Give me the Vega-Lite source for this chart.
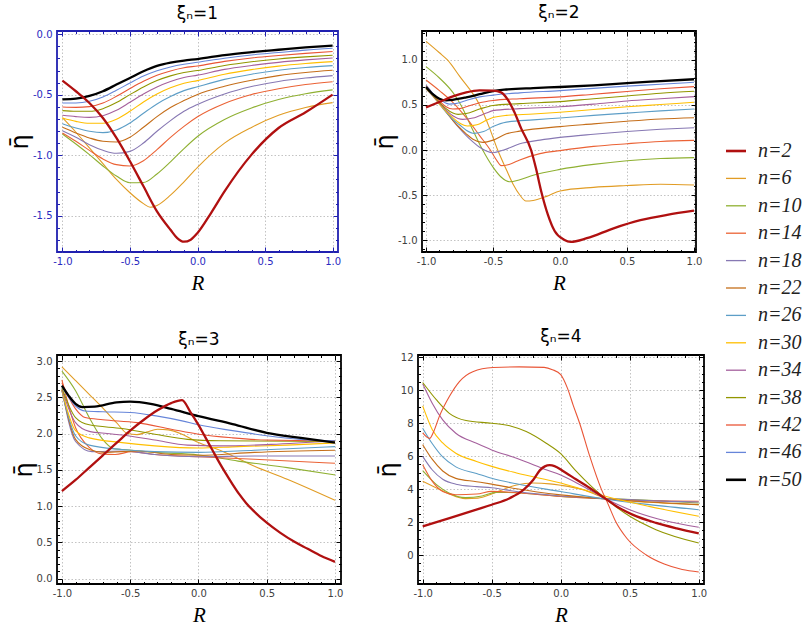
{
  "$schema": "https://vega.github.io/schema/vega-lite/v6.json",
  "padding": {"left": 7, "top": 3, "right": 0, "bottom": 0},
  "spacing": 32,
  "datasets": {
    "p1": [
      {"n":6,"R":-1,"v":-0.69},{"n":6,"R":-0.9,"v":-0.81},{"n":6,"R":-0.8,"v":-0.94},{"n":6,"R":-0.7,"v":-1.07},{"n":6,"R":-0.6,"v":-1.2},{"n":6,"R":-0.5,"v":-1.31},{"n":6,"R":-0.4,"v":-1.4},{"n":6,"R":-0.35,"v":-1.43},{"n":6,"R":-0.3,"v":-1.415},{"n":6,"R":-0.2,"v":-1.33},{"n":6,"R":-0.1,"v":-1.22},{"n":6,"R":0,"v":-1.1},{"n":6,"R":0.2,"v":-0.9},{"n":6,"R":0.4,"v":-0.77},{"n":6,"R":0.6,"v":-0.67},{"n":6,"R":0.8,"v":-0.605},{"n":6,"R":1,"v":-0.565},
      {"n":10,"R":-1,"v":-0.824},{"n":10,"R":-0.9,"v":-0.907},{"n":10,"R":-0.8,"v":-0.995},{"n":10,"R":-0.7,"v":-1.089},{"n":10,"R":-0.6,"v":-1.172},{"n":10,"R":-0.5,"v":-1.228},{"n":10,"R":-0.4,"v":-1.226},{"n":10,"R":-0.3,"v":-1.155},{"n":10,"R":-0.2,"v":-1.055},{"n":10,"R":-0.1,"v":-0.945},{"n":10,"R":0,"v":-0.845},{"n":10,"R":0.2,"v":-0.705},{"n":10,"R":0.4,"v":-0.61},{"n":10,"R":0.6,"v":-0.54},{"n":10,"R":0.8,"v":-0.492},{"n":10,"R":1,"v":-0.46},
      {"n":14,"R":-1,"v":-0.816},{"n":14,"R":-0.9,"v":-0.885},{"n":14,"R":-0.8,"v":-0.96},{"n":14,"R":-0.7,"v":-1.031},{"n":14,"R":-0.6,"v":-1.078},{"n":14,"R":-0.5,"v":-1.089},{"n":14,"R":-0.4,"v":-1.045},{"n":14,"R":-0.3,"v":-0.954},{"n":14,"R":-0.2,"v":-0.852},{"n":14,"R":-0.1,"v":-0.761},{"n":14,"R":0,"v":-0.682},{"n":14,"R":0.2,"v":-0.572},{"n":14,"R":0.4,"v":-0.498},{"n":14,"R":0.6,"v":-0.45},{"n":14,"R":0.8,"v":-0.415},{"n":14,"R":1,"v":-0.392},
      {"n":18,"R":-1,"v":-0.797},{"n":18,"R":-0.9,"v":-0.852},{"n":18,"R":-0.8,"v":-0.913},{"n":18,"R":-0.7,"v":-0.959},{"n":18,"R":-0.6,"v":-0.984},{"n":18,"R":-0.5,"v":-0.968},{"n":18,"R":-0.4,"v":-0.899},{"n":18,"R":-0.3,"v":-0.802},{"n":18,"R":-0.2,"v":-0.714},{"n":18,"R":-0.1,"v":-0.637},{"n":18,"R":0,"v":-0.58},{"n":18,"R":0.2,"v":-0.493},{"n":18,"R":0.4,"v":-0.432},{"n":18,"R":0.6,"v":-0.39},{"n":18,"R":0.8,"v":-0.362},{"n":18,"R":1,"v":-0.342},
      {"n":22,"R":-1,"v":-0.769},{"n":22,"R":-0.9,"v":-0.816},{"n":22,"R":-0.8,"v":-0.857},{"n":22,"R":-0.7,"v":-0.885},{"n":22,"R":-0.6,"v":-0.891},{"n":22,"R":-0.5,"v":-0.852},{"n":22,"R":-0.4,"v":-0.769},{"n":22,"R":-0.3,"v":-0.681},{"n":22,"R":-0.2,"v":-0.606},{"n":22,"R":-0.1,"v":-0.548},{"n":22,"R":0,"v":-0.497},{"n":22,"R":0.2,"v":-0.43},{"n":22,"R":0.4,"v":-0.38},{"n":22,"R":0.6,"v":-0.342},{"n":22,"R":0.8,"v":-0.316},{"n":22,"R":1,"v":-0.298},
      {"n":26,"R":-1,"v":-0.739},{"n":26,"R":-0.9,"v":-0.775},{"n":26,"R":-0.8,"v":-0.802},{"n":26,"R":-0.7,"v":-0.813},{"n":26,"R":-0.6,"v":-0.791},{"n":26,"R":-0.5,"v":-0.733},{"n":26,"R":-0.4,"v":-0.653},{"n":26,"R":-0.3,"v":-0.576},{"n":26,"R":-0.2,"v":-0.515},{"n":26,"R":-0.1,"v":-0.466},{"n":26,"R":0,"v":-0.434},{"n":26,"R":0.2,"v":-0.373},{"n":26,"R":0.4,"v":-0.33},{"n":26,"R":0.6,"v":-0.298},{"n":26,"R":0.8,"v":-0.275},{"n":26,"R":1,"v":-0.259},
      {"n":30,"R":-1,"v":-0.692},{"n":30,"R":-0.9,"v":-0.72},{"n":30,"R":-0.8,"v":-0.736},{"n":30,"R":-0.7,"v":-0.736},{"n":30,"R":-0.6,"v":-0.703},{"n":30,"R":-0.5,"v":-0.637},{"n":30,"R":-0.4,"v":-0.56},{"n":30,"R":-0.3,"v":-0.494},{"n":30,"R":-0.2,"v":-0.443},{"n":30,"R":-0.1,"v":-0.405},{"n":30,"R":0,"v":-0.383},{"n":30,"R":0.2,"v":-0.33},{"n":30,"R":0.4,"v":-0.292},{"n":30,"R":0.6,"v":-0.263},{"n":30,"R":0.8,"v":-0.242},{"n":30,"R":1,"v":-0.226},
      {"n":34,"R":-1,"v":-0.67},{"n":34,"R":-0.9,"v":-0.681},{"n":34,"R":-0.8,"v":-0.687},{"n":34,"R":-0.7,"v":-0.673},{"n":34,"R":-0.6,"v":-0.629},{"n":34,"R":-0.5,"v":-0.562},{"n":34,"R":-0.4,"v":-0.494},{"n":34,"R":-0.3,"v":-0.436},{"n":34,"R":-0.2,"v":-0.391},{"n":34,"R":-0.1,"v":-0.358},{"n":34,"R":0,"v":-0.338},{"n":34,"R":0.2,"v":-0.29},{"n":34,"R":0.4,"v":-0.258},{"n":34,"R":0.6,"v":-0.232},{"n":34,"R":0.8,"v":-0.212},{"n":34,"R":1,"v":-0.196},
      {"n":38,"R":-1,"v":-0.631},{"n":38,"R":-0.9,"v":-0.637},{"n":38,"R":-0.8,"v":-0.637},{"n":38,"R":-0.7,"v":-0.615},{"n":38,"R":-0.6,"v":-0.565},{"n":38,"R":-0.5,"v":-0.499},{"n":38,"R":-0.4,"v":-0.436},{"n":38,"R":-0.3,"v":-0.383},{"n":38,"R":-0.2,"v":-0.344},{"n":38,"R":-0.1,"v":-0.316},{"n":38,"R":0,"v":-0.3},{"n":38,"R":0.2,"v":-0.258},{"n":38,"R":0.4,"v":-0.227},{"n":38,"R":0.6,"v":-0.204},{"n":38,"R":0.8,"v":-0.187},{"n":38,"R":1,"v":-0.174},
      {"n":42,"R":-1,"v":-0.601},{"n":42,"R":-0.9,"v":-0.604},{"n":42,"R":-0.8,"v":-0.598},{"n":42,"R":-0.7,"v":-0.568},{"n":42,"R":-0.6,"v":-0.513},{"n":42,"R":-0.5,"v":-0.449},{"n":42,"R":-0.4,"v":-0.389},{"n":42,"R":-0.3,"v":-0.339},{"n":42,"R":-0.2,"v":-0.303},{"n":42,"R":-0.1,"v":-0.277},{"n":42,"R":0,"v":-0.262},{"n":42,"R":0.2,"v":-0.224},{"n":42,"R":0.4,"v":-0.196},{"n":42,"R":0.6,"v":-0.176},{"n":42,"R":0.8,"v":-0.158},{"n":42,"R":1,"v":-0.143},
      {"n":46,"R":-1,"v":-0.568},{"n":46,"R":-0.9,"v":-0.568},{"n":46,"R":-0.8,"v":-0.554},{"n":46,"R":-0.7,"v":-0.518},{"n":46,"R":-0.6,"v":-0.463},{"n":46,"R":-0.5,"v":-0.403},{"n":46,"R":-0.4,"v":-0.345},{"n":46,"R":-0.3,"v":-0.301},{"n":46,"R":-0.2,"v":-0.27},{"n":46,"R":-0.1,"v":-0.248},{"n":46,"R":0,"v":-0.232},{"n":46,"R":0.2,"v":-0.198},{"n":46,"R":0.4,"v":-0.171},{"n":46,"R":0.6,"v":-0.151},{"n":46,"R":0.8,"v":-0.131},{"n":46,"R":1,"v":-0.116},
      {"n":50,"R":-1,"v":-0.538},{"n":50,"R":-0.9,"v":-0.532},{"n":50,"R":-0.8,"v":-0.51},{"n":50,"R":-0.7,"v":-0.471},{"n":50,"R":-0.6,"v":-0.416},{"n":50,"R":-0.5,"v":-0.361},{"n":50,"R":-0.4,"v":-0.306},{"n":50,"R":-0.3,"v":-0.262},{"n":50,"R":-0.2,"v":-0.235},{"n":50,"R":-0.1,"v":-0.217},{"n":50,"R":0,"v":-0.205},{"n":50,"R":0.2,"v":-0.172},{"n":50,"R":0.4,"v":-0.148},{"n":50,"R":0.6,"v":-0.128},{"n":50,"R":0.8,"v":-0.109},{"n":50,"R":1,"v":-0.094},
      {"n":2,"R":-1,"v":-0.383},{"n":2,"R":-0.9,"v":-0.471},{"n":2,"R":-0.8,"v":-0.568},{"n":2,"R":-0.7,"v":-0.692},{"n":2,"R":-0.6,"v":-0.857},{"n":2,"R":-0.5,"v":-1.05},{"n":2,"R":-0.4,"v":-1.257},{"n":2,"R":-0.3,"v":-1.464},{"n":2,"R":-0.2,"v":-1.616},{"n":2,"R":-0.15,"v":-1.685},{"n":2,"R":-0.1,"v":-1.715},{"n":2,"R":-0.05,"v":-1.698},{"n":2,"R":0,"v":-1.643},{"n":2,"R":0.1,"v":-1.478},{"n":2,"R":0.2,"v":-1.299},{"n":2,"R":0.4,"v":-0.995},{"n":2,"R":0.6,"v":-0.775},{"n":2,"R":0.8,"v":-0.645},{"n":2,"R":1,"v":-0.499}
    ],
    "p2": [
      {"n":6,"R":-1,"v":1.207},{"n":6,"R":-0.9,"v":1.08},{"n":6,"R":-0.84,"v":1.0},{"n":6,"R":-0.75,"v":0.82},{"n":6,"R":-0.6,"v":0.5},{"n":6,"R":-0.53,"v":0.26},{"n":6,"R":-0.465,"v":0.0},{"n":6,"R":-0.4,"v":-0.22},{"n":6,"R":-0.35,"v":-0.38},{"n":6,"R":-0.3,"v":-0.5},{"n":6,"R":-0.254,"v":-0.567},{"n":6,"R":-0.2,"v":-0.56},{"n":6,"R":-0.1,"v":-0.515},{"n":6,"R":0,"v":-0.455},{"n":6,"R":0.25,"v":-0.415},{"n":6,"R":0.5,"v":-0.395},{"n":6,"R":0.75,"v":-0.38},{"n":6,"R":1,"v":-0.389},
      {"n":10,"R":-1,"v":0.926},{"n":10,"R":-0.9,"v":0.8},{"n":10,"R":-0.8,"v":0.64},{"n":10,"R":-0.74,"v":0.5},{"n":10,"R":-0.65,"v":0.22},{"n":10,"R":-0.577,"v":0.0},{"n":10,"R":-0.5,"v":-0.19},{"n":10,"R":-0.44,"v":-0.3},{"n":10,"R":-0.378,"v":-0.352},{"n":10,"R":-0.3,"v":-0.33},{"n":10,"R":-0.2,"v":-0.28},{"n":10,"R":0,"v":-0.215},{"n":10,"R":0.25,"v":-0.16},{"n":10,"R":0.5,"v":-0.12},{"n":10,"R":0.75,"v":-0.095},{"n":10,"R":1,"v":-0.085},
      {"n":14,"R":-1,"v":0.778},{"n":14,"R":-0.9,"v":0.66},{"n":14,"R":-0.8,"v":0.53},{"n":14,"R":-0.7,"v":0.36},{"n":14,"R":-0.6,"v":0.16},{"n":14,"R":-0.52,"v":0.0},{"n":14,"R":-0.47,"v":-0.12},{"n":14,"R":-0.44,"v":-0.174},{"n":14,"R":-0.38,"v":-0.16},{"n":14,"R":-0.3,"v":-0.11},{"n":14,"R":-0.15,"v":-0.04},{"n":14,"R":0,"v":-0.007},{"n":14,"R":0.25,"v":0.04},{"n":14,"R":0.5,"v":0.07},{"n":14,"R":0.75,"v":0.095},{"n":14,"R":1,"v":0.107},
      {"n":18,"R":-1,"v":0.72},{"n":18,"R":-0.95,"v":0.63},{"n":18,"R":-0.9,"v":0.53},{"n":18,"R":-0.85,"v":0.43},{"n":18,"R":-0.8,"v":0.33},{"n":18,"R":-0.75,"v":0.24},{"n":18,"R":-0.7,"v":0.16},{"n":18,"R":-0.65,"v":0.09},{"n":18,"R":-0.6,"v":0.03},{"n":18,"R":-0.55,"v":-0.01},{"n":18,"R":-0.5,"v":-0.03},{"n":18,"R":-0.42,"v":0.0},{"n":18,"R":-0.3,"v":0.07},{"n":18,"R":-0.15,"v":0.11},{"n":18,"R":0,"v":0.14},{"n":18,"R":0.25,"v":0.175},{"n":18,"R":0.5,"v":0.205},{"n":18,"R":0.75,"v":0.23},{"n":18,"R":1,"v":0.248},
      {"n":22,"R":-1,"v":0.71},{"n":22,"R":-0.95,"v":0.62},{"n":22,"R":-0.9,"v":0.52},{"n":22,"R":-0.85,"v":0.42},{"n":22,"R":-0.8,"v":0.33},{"n":22,"R":-0.75,"v":0.25},{"n":22,"R":-0.7,"v":0.18},{"n":22,"R":-0.65,"v":0.12},{"n":22,"R":-0.577,"v":0.085},{"n":22,"R":-0.5,"v":0.11},{"n":22,"R":-0.4,"v":0.18},{"n":22,"R":-0.3,"v":0.21},{"n":22,"R":0,"v":0.26},{"n":22,"R":0.25,"v":0.29},{"n":22,"R":0.5,"v":0.32},{"n":22,"R":0.75,"v":0.345},{"n":22,"R":1,"v":0.359},
      {"n":26,"R":-1,"v":0.7},{"n":26,"R":-0.95,"v":0.61},{"n":26,"R":-0.9,"v":0.51},{"n":26,"R":-0.85,"v":0.42},{"n":26,"R":-0.8,"v":0.34},{"n":26,"R":-0.75,"v":0.28},{"n":26,"R":-0.7,"v":0.22},{"n":26,"R":-0.64,"v":0.185},{"n":26,"R":-0.57,"v":0.205},{"n":26,"R":-0.5,"v":0.26},{"n":26,"R":-0.4,"v":0.31},{"n":26,"R":-0.2,"v":0.335},{"n":26,"R":0,"v":0.356},{"n":26,"R":0.25,"v":0.385},{"n":26,"R":0.5,"v":0.41},{"n":26,"R":0.75,"v":0.435},{"n":26,"R":1,"v":0.456},
      {"n":30,"R":-1,"v":0.69},{"n":30,"R":-0.95,"v":0.6},{"n":30,"R":-0.9,"v":0.51},{"n":30,"R":-0.85,"v":0.43},{"n":30,"R":-0.8,"v":0.36},{"n":30,"R":-0.75,"v":0.3},{"n":30,"R":-0.69,"v":0.267},{"n":30,"R":-0.62,"v":0.28},{"n":30,"R":-0.55,"v":0.33},{"n":30,"R":-0.5,"v":0.36},{"n":30,"R":-0.4,"v":0.385},{"n":30,"R":-0.2,"v":0.4},{"n":30,"R":0,"v":0.42},{"n":30,"R":0.25,"v":0.45},{"n":30,"R":0.5,"v":0.48},{"n":30,"R":0.75,"v":0.505},{"n":30,"R":1,"v":0.53},
      {"n":34,"R":-1,"v":0.68},{"n":34,"R":-0.95,"v":0.6},{"n":34,"R":-0.9,"v":0.52},{"n":34,"R":-0.85,"v":0.445},{"n":34,"R":-0.8,"v":0.38},{"n":34,"R":-0.726,"v":0.34},{"n":34,"R":-0.65,"v":0.355},{"n":34,"R":-0.55,"v":0.41},{"n":34,"R":-0.5,"v":0.437},{"n":34,"R":-0.3,"v":0.46},{"n":34,"R":0,"v":0.48},{"n":34,"R":0.25,"v":0.51},{"n":34,"R":0.5,"v":0.545},{"n":34,"R":0.75,"v":0.57},{"n":34,"R":1,"v":0.593},
      {"n":38,"R":-1,"v":0.68},{"n":38,"R":-0.95,"v":0.61},{"n":38,"R":-0.9,"v":0.53},{"n":38,"R":-0.85,"v":0.46},{"n":38,"R":-0.8,"v":0.41},{"n":38,"R":-0.76,"v":0.396},{"n":38,"R":-0.7,"v":0.405},{"n":38,"R":-0.6,"v":0.455},{"n":38,"R":-0.5,"v":0.495},{"n":38,"R":-0.3,"v":0.515},{"n":38,"R":0,"v":0.537},{"n":38,"R":0.25,"v":0.57},{"n":38,"R":0.5,"v":0.6},{"n":38,"R":0.75,"v":0.63},{"n":38,"R":1,"v":0.652},
      {"n":42,"R":-1,"v":0.69},{"n":42,"R":-0.95,"v":0.62},{"n":42,"R":-0.9,"v":0.545},{"n":42,"R":-0.85,"v":0.48},{"n":42,"R":-0.8,"v":0.455},{"n":42,"R":-0.75,"v":0.46},{"n":42,"R":-0.7,"v":0.48},{"n":42,"R":-0.6,"v":0.525},{"n":42,"R":-0.5,"v":0.55},{"n":42,"R":-0.3,"v":0.57},{"n":42,"R":0,"v":0.59},{"n":42,"R":0.25,"v":0.62},{"n":42,"R":0.5,"v":0.65},{"n":42,"R":0.75,"v":0.68},{"n":42,"R":1,"v":0.704},
      {"n":46,"R":-1,"v":0.7},{"n":46,"R":-0.95,"v":0.63},{"n":46,"R":-0.9,"v":0.565},{"n":46,"R":-0.85,"v":0.52},{"n":46,"R":-0.826,"v":0.51},{"n":46,"R":-0.78,"v":0.515},{"n":46,"R":-0.7,"v":0.55},{"n":46,"R":-0.6,"v":0.59},{"n":46,"R":-0.5,"v":0.61},{"n":46,"R":-0.3,"v":0.635},{"n":46,"R":0,"v":0.66},{"n":46,"R":0.25,"v":0.685},{"n":46,"R":0.5,"v":0.71},{"n":46,"R":0.75,"v":0.73},{"n":46,"R":1,"v":0.752},
      {"n":50,"R":-1,"v":0.7},{"n":50,"R":-0.95,"v":0.62},{"n":50,"R":-0.9,"v":0.57},{"n":50,"R":-0.85,"v":0.552},{"n":50,"R":-0.8,"v":0.558},{"n":50,"R":-0.7,"v":0.585},{"n":50,"R":-0.6,"v":0.62},{"n":50,"R":-0.5,"v":0.655},{"n":50,"R":-0.4,"v":0.672},{"n":50,"R":-0.2,"v":0.688},{"n":50,"R":0,"v":0.7},{"n":50,"R":0.25,"v":0.718},{"n":50,"R":0.5,"v":0.743},{"n":50,"R":0.75,"v":0.765},{"n":50,"R":1,"v":0.786},
      {"n":2,"R":-1,"v":0.474},{"n":2,"R":-0.9,"v":0.533},{"n":2,"R":-0.8,"v":0.596},{"n":2,"R":-0.7,"v":0.641},{"n":2,"R":-0.6,"v":0.663},{"n":2,"R":-0.5,"v":0.66},{"n":2,"R":-0.44,"v":0.64},{"n":2,"R":-0.39,"v":0.56},{"n":2,"R":-0.34,"v":0.42},{"n":2,"R":-0.29,"v":0.24},{"n":2,"R":-0.216,"v":0.0},{"n":2,"R":-0.18,"v":-0.2},{"n":2,"R":-0.14,"v":-0.46},{"n":2,"R":-0.09,"v":-0.72},{"n":2,"R":-0.04,"v":-0.9},{"n":2,"R":0.03,"v":-0.996},{"n":2,"R":0.08,"v":-1.02},{"n":2,"R":0.2,"v":-0.98},{"n":2,"R":0.4,"v":-0.87},{"n":2,"R":0.6,"v":-0.78},{"n":2,"R":0.8,"v":-0.72},{"n":2,"R":1,"v":-0.674}
    ],
    "p3": [
      {"n":6,"R":-1,"v":2.92},{"n":6,"R":-0.9,"v":2.73},{"n":6,"R":-0.8,"v":2.54},{"n":6,"R":-0.7,"v":2.35},{"n":6,"R":-0.6,"v":2.15},{"n":6,"R":-0.52,"v":2.0},{"n":6,"R":-0.45,"v":1.985},{"n":6,"R":-0.38,"v":2.02},{"n":6,"R":-0.3,"v":2.06},{"n":6,"R":-0.22,"v":2.05},{"n":6,"R":-0.12,"v":1.99},{"n":6,"R":0,"v":1.875},{"n":6,"R":0.17,"v":1.76},{"n":6,"R":0.41,"v":1.55},{"n":6,"R":0.65,"v":1.37},{"n":6,"R":1,"v":1.08},
      {"n":10,"R":-1,"v":2.86},{"n":10,"R":-0.9,"v":2.59},{"n":10,"R":-0.8,"v":2.22},{"n":10,"R":-0.71,"v":1.94},{"n":10,"R":-0.62,"v":1.79},{"n":10,"R":-0.49,"v":1.77},{"n":10,"R":-0.32,"v":1.74},{"n":10,"R":0,"v":1.705},{"n":10,"R":0.29,"v":1.62},{"n":10,"R":0.65,"v":1.53},{"n":10,"R":1,"v":1.43},
      {"n":14,"R":-1,"v":2.74},{"n":14,"R":-0.9,"v":2.08},{"n":14,"R":-0.8,"v":1.81},{"n":14,"R":-0.71,"v":1.72},{"n":14,"R":-0.61,"v":1.71},{"n":14,"R":-0.49,"v":1.75},{"n":14,"R":-0.32,"v":1.71},{"n":14,"R":0,"v":1.68},{"n":14,"R":0.41,"v":1.645},{"n":14,"R":1,"v":1.59},
      {"n":18,"R":-1,"v":2.61},{"n":18,"R":-0.9,"v":1.89},{"n":18,"R":-0.78,"v":1.75},{"n":18,"R":-0.56,"v":1.76},{"n":18,"R":-0.32,"v":1.71},{"n":18,"R":0,"v":1.68},{"n":18,"R":0.41,"v":1.69},{"n":18,"R":1,"v":1.69},
      {"n":22,"R":-1,"v":2.6},{"n":22,"R":-0.9,"v":1.92},{"n":22,"R":-0.8,"v":1.78},{"n":22,"R":-0.69,"v":1.74},{"n":22,"R":-0.44,"v":1.76},{"n":22,"R":-0.2,"v":1.71},{"n":22,"R":0,"v":1.7},{"n":22,"R":0.41,"v":1.74},{"n":22,"R":1,"v":1.77},
      {"n":26,"R":-1,"v":2.59},{"n":26,"R":-0.9,"v":1.97},{"n":26,"R":-0.8,"v":1.84},{"n":26,"R":-0.56,"v":1.78},{"n":26,"R":-0.32,"v":1.75},{"n":26,"R":0,"v":1.74},{"n":26,"R":0.41,"v":1.77},{"n":26,"R":1,"v":1.82},
      {"n":30,"R":-1,"v":2.6},{"n":30,"R":-0.9,"v":2.04},{"n":30,"R":-0.8,"v":1.94},{"n":30,"R":-0.56,"v":1.875},{"n":30,"R":-0.32,"v":1.83},{"n":30,"R":0,"v":1.8},{"n":30,"R":0.29,"v":1.82},{"n":30,"R":0.65,"v":1.84},{"n":30,"R":1,"v":1.87},
      {"n":34,"R":-1,"v":2.61},{"n":34,"R":-0.9,"v":2.15},{"n":34,"R":-0.8,"v":2.03},{"n":34,"R":-0.67,"v":2.0},{"n":34,"R":-0.56,"v":1.98},{"n":34,"R":-0.32,"v":1.91},{"n":34,"R":-0.08,"v":1.84},{"n":34,"R":0.16,"v":1.83},{"n":34,"R":0.53,"v":1.85},{"n":34,"R":1,"v":1.9},
      {"n":38,"R":-1,"v":2.63},{"n":38,"R":-0.9,"v":2.22},{"n":38,"R":-0.8,"v":2.12},{"n":38,"R":-0.56,"v":2.07},{"n":38,"R":-0.32,"v":1.99},{"n":38,"R":-0.08,"v":1.92},{"n":38,"R":0.16,"v":1.9},{"n":38,"R":1,"v":1.89},
      {"n":42,"R":-1,"v":2.7},{"n":42,"R":-0.9,"v":2.34},{"n":42,"R":-0.83,"v":2.22},{"n":42,"R":-0.7,"v":2.19},{"n":42,"R":-0.45,"v":2.15},{"n":42,"R":-0.2,"v":2.06},{"n":42,"R":0,"v":1.99},{"n":42,"R":0.25,"v":1.94},{"n":42,"R":0.5,"v":1.91},{"n":42,"R":1,"v":1.9},
      {"n":46,"R":-1,"v":2.645},{"n":46,"R":-0.9,"v":2.38},{"n":46,"R":-0.83,"v":2.31},{"n":46,"R":-0.7,"v":2.3},{"n":46,"R":-0.5,"v":2.29},{"n":46,"R":-0.3,"v":2.24},{"n":46,"R":-0.12,"v":2.175},{"n":46,"R":0,"v":2.12},{"n":46,"R":0.25,"v":2.04},{"n":46,"R":0.5,"v":1.97},{"n":46,"R":0.75,"v":1.92},{"n":46,"R":1,"v":1.9},
      {"n":50,"R":-1,"v":2.66},{"n":50,"R":-0.95,"v":2.52},{"n":50,"R":-0.9,"v":2.41},{"n":50,"R":-0.85,"v":2.365},{"n":50,"R":-0.76,"v":2.37},{"n":50,"R":-0.6,"v":2.43},{"n":50,"R":-0.5,"v":2.44},{"n":50,"R":-0.35,"v":2.41},{"n":50,"R":-0.2,"v":2.34},{"n":50,"R":0,"v":2.24},{"n":50,"R":0.25,"v":2.13},{"n":50,"R":0.5,"v":2.01},{"n":50,"R":0.75,"v":1.94},{"n":50,"R":1,"v":1.875},
      {"n":2,"R":-1,"v":1.207},{"n":2,"R":-0.9,"v":1.36},{"n":2,"R":-0.8,"v":1.53},{"n":2,"R":-0.7,"v":1.7},{"n":2,"R":-0.6,"v":1.87},{"n":2,"R":-0.5,"v":2.04},{"n":2,"R":-0.4,"v":2.19},{"n":2,"R":-0.3,"v":2.32},{"n":2,"R":-0.2,"v":2.42},{"n":2,"R":-0.12,"v":2.46},{"n":2,"R":-0.06,"v":2.3},{"n":2,"R":0,"v":2.12},{"n":2,"R":0.05,"v":1.95},{"n":2,"R":0.1,"v":1.78},{"n":2,"R":0.15,"v":1.61},{"n":2,"R":0.2,"v":1.45},{"n":2,"R":0.25,"v":1.3},{"n":2,"R":0.3,"v":1.16},{"n":2,"R":0.35,"v":1.04},{"n":2,"R":0.4,"v":0.94},{"n":2,"R":0.5,"v":0.77},{"n":2,"R":0.6,"v":0.63},{"n":2,"R":0.7,"v":0.51},{"n":2,"R":0.8,"v":0.41},{"n":2,"R":0.9,"v":0.31},{"n":2,"R":1,"v":0.23}
    ],
    "p4": [
      {"n":6,"R":-1,"v":4.47},{"n":6,"R":-0.9,"v":4.07},{"n":6,"R":-0.81,"v":3.72},{"n":6,"R":-0.69,"v":3.42},{"n":6,"R":-0.6,"v":3.45},{"n":6,"R":-0.5,"v":3.7},{"n":6,"R":-0.44,"v":3.9},{"n":6,"R":-0.32,"v":4.25},{"n":6,"R":-0.2,"v":4.37},{"n":6,"R":-0.08,"v":4.32},{"n":6,"R":0,"v":4.23},{"n":6,"R":0.16,"v":3.97},{"n":6,"R":0.33,"v":3.45},{"n":6,"R":0.64,"v":3.2},{"n":6,"R":1,"v":3.05},
      {"n":10,"R":-1,"v":5.12},{"n":10,"R":-0.9,"v":4.27},{"n":10,"R":-0.81,"v":3.76},{"n":10,"R":-0.69,"v":3.48},{"n":10,"R":-0.57,"v":3.58},{"n":10,"R":-0.47,"v":3.8},{"n":10,"R":-0.32,"v":3.78},{"n":10,"R":0,"v":3.55},{"n":10,"R":0.33,"v":3.42},{"n":10,"R":0.64,"v":3.32},{"n":10,"R":1,"v":3.16},
      {"n":14,"R":-1,"v":5.48},{"n":14,"R":-0.93,"v":4.47},{"n":14,"R":-0.855,"v":3.86},{"n":14,"R":-0.76,"v":3.66},{"n":14,"R":-0.61,"v":3.7},{"n":14,"R":-0.5,"v":3.86},{"n":14,"R":-0.32,"v":3.78},{"n":14,"R":0,"v":3.55},{"n":14,"R":0.33,"v":3.4},{"n":14,"R":0.64,"v":3.3},{"n":14,"R":1,"v":3.26},
      {"n":18,"R":-1,"v":5.99},{"n":18,"R":-0.93,"v":5.16},{"n":18,"R":-0.855,"v":4.6},{"n":18,"R":-0.76,"v":4.3},{"n":18,"R":-0.61,"v":4.15},{"n":18,"R":-0.5,"v":4.08},{"n":18,"R":-0.32,"v":3.85},{"n":18,"R":0,"v":3.58},{"n":18,"R":0.33,"v":3.42},{"n":18,"R":0.64,"v":3.3},{"n":18,"R":1,"v":3.22},
      {"n":22,"R":-1,"v":6.7},{"n":22,"R":-0.93,"v":5.8},{"n":22,"R":-0.855,"v":5.1},{"n":22,"R":-0.76,"v":4.65},{"n":22,"R":-0.61,"v":4.45},{"n":22,"R":-0.5,"v":4.3},{"n":22,"R":-0.32,"v":4.02},{"n":22,"R":0,"v":3.65},{"n":22,"R":0.33,"v":3.4},{"n":22,"R":0.64,"v":3.22},{"n":22,"R":1,"v":3.06},
      {"n":26,"R":-1,"v":7.7},{"n":26,"R":-0.93,"v":6.75},{"n":26,"R":-0.855,"v":5.95},{"n":26,"R":-0.76,"v":5.35},{"n":26,"R":-0.61,"v":4.95},{"n":26,"R":-0.5,"v":4.66},{"n":26,"R":-0.32,"v":4.32},{"n":26,"R":0,"v":3.85},{"n":26,"R":0.33,"v":3.38},{"n":26,"R":0.64,"v":3.06},{"n":26,"R":1,"v":2.75},
      {"n":30,"R":-1,"v":9.05},{"n":30,"R":-0.93,"v":7.6},{"n":30,"R":-0.855,"v":6.8},{"n":30,"R":-0.76,"v":6.18},{"n":30,"R":-0.61,"v":5.68},{"n":30,"R":-0.5,"v":5.38},{"n":30,"R":-0.32,"v":4.98},{"n":30,"R":0,"v":4.37},{"n":30,"R":0.33,"v":3.55},{"n":30,"R":0.64,"v":2.95},{"n":30,"R":1,"v":2.35},
      {"n":34,"R":-1,"v":10.4},{"n":34,"R":-0.93,"v":9.2},{"n":34,"R":-0.855,"v":8.2},{"n":34,"R":-0.76,"v":7.39},{"n":34,"R":-0.61,"v":6.78},{"n":34,"R":-0.5,"v":6.38},{"n":34,"R":-0.32,"v":5.87},{"n":34,"R":-0.1,"v":5.16},{"n":34,"R":0,"v":4.85},{"n":34,"R":0.16,"v":4.17},{"n":34,"R":0.33,"v":3.4},{"n":34,"R":0.5,"v":2.75},{"n":34,"R":0.7,"v":2.2},{"n":34,"R":1,"v":1.68},
      {"n":38,"R":-1,"v":10.47},{"n":38,"R":-0.9,"v":9.41},{"n":38,"R":-0.807,"v":8.6},{"n":38,"R":-0.686,"v":8.16},{"n":38,"R":-0.5,"v":8.0},{"n":38,"R":-0.37,"v":7.85},{"n":38,"R":-0.25,"v":7.49},{"n":38,"R":-0.105,"v":6.78},{"n":38,"R":0,"v":6.15},{"n":38,"R":0.11,"v":5.1},{"n":38,"R":0.23,"v":4.1},{"n":38,"R":0.33,"v":3.38},{"n":38,"R":0.5,"v":2.35},{"n":38,"R":0.69,"v":1.54},{"n":38,"R":1,"v":0.73},
      {"n":42,"R":-1,"v":7.41},{"n":42,"R":-0.95,"v":7.08},{"n":42,"R":-0.92,"v":7.5},{"n":42,"R":-0.88,"v":8.4},{"n":42,"R":-0.807,"v":9.62},{"n":42,"R":-0.734,"v":10.53},{"n":42,"R":-0.637,"v":11.13},{"n":42,"R":-0.49,"v":11.38},{"n":42,"R":-0.3,"v":11.42},{"n":42,"R":-0.12,"v":11.39},{"n":42,"R":-0.06,"v":11.25},{"n":42,"R":0,"v":10.95},{"n":42,"R":0.05,"v":10.1},{"n":42,"R":0.09,"v":9.1},{"n":42,"R":0.137,"v":8.0},{"n":42,"R":0.21,"v":6.0},{"n":42,"R":0.294,"v":4.0},{"n":42,"R":0.34,"v":3.15},{"n":42,"R":0.4,"v":2.0},{"n":42,"R":0.48,"v":1.0},{"n":42,"R":0.62,"v":0.0},{"n":42,"R":0.75,"v":-0.55},{"n":42,"R":0.88,"v":-0.88},{"n":42,"R":1,"v":-1.03},
      {"n":2,"R":-1,"v":1.74},{"n":2,"R":-0.8,"v":2.25},{"n":2,"R":-0.6,"v":2.78},{"n":2,"R":-0.5,"v":3.05},{"n":2,"R":-0.37,"v":3.45},{"n":2,"R":-0.27,"v":3.95},{"n":2,"R":-0.2,"v":4.55},{"n":2,"R":-0.15,"v":5.15},{"n":2,"R":-0.115,"v":5.38},{"n":2,"R":-0.08,"v":5.45},{"n":2,"R":-0.045,"v":5.4},{"n":2,"R":0.016,"v":5.1},{"n":2,"R":0.11,"v":4.6},{"n":2,"R":0.21,"v":4.07},{"n":2,"R":0.31,"v":3.5},{"n":2,"R":0.4,"v":2.98},{"n":2,"R":0.52,"v":2.45},{"n":2,"R":0.69,"v":1.95},{"n":2,"R":0.84,"v":1.62},{"n":2,"R":1,"v":1.32}
    ]
  },
  "vconcat": [
    {
      "bounds": "flush",
      "spacing": 84,
      "hconcat": [
        {
          "width": 281, "height": 221,
          "data": {"name": "p1"},
          "title": {"text": "ξₙ=1"},
          "view": {"stroke": "#2020b0", "strokeWidth": 1.8},
          "layer": [
            {
              "mark": {"type": "line", "interpolate": "monotone", "clip": true},
              "encoding": {
                "x": {"field": "R", "type": "quantitative", "title": "R",
                      "scale": {"domain": [-1.04, 1.04], "nice": false, "zero": false},
                      "axis": {"values": [-1,-0.9,-0.8,-0.7,-0.6,-0.5,-0.4,-0.3,-0.2,-0.1,0,0.1,0.2,0.3,0.4,0.5,0.6,0.7,0.8,0.9,1],
                               "labelExpr": "abs(datum.value*2-round(datum.value*2))<0.001 ? replace(format(datum.value,'.1f'),'\u2212','-') : ''",
                               "tickSize": {"condition": {"test": "abs(datum.value*2-round(datum.value*2))<0.001", "value": -5}, "value": -2.5},
                               "gridOpacity": {"condition": {"test": "abs(datum.value*2-round(datum.value*2))<0.001", "value": 1}, "value": 0},
                               "labelColor": "#2a2ac0", "tickColor": "#2020b0"}},
                "y": {"field": "v", "type": "quantitative", "title": "η̄",
                      "scale": {"domain": [-1.8, 0.027], "nice": false, "zero": false},
                      "axis": {"values": [-1.8,-1.7,-1.6,-1.5,-1.4,-1.3,-1.2,-1.1,-1,-0.9,-0.8,-0.7,-0.6,-0.5,-0.4,-0.3,-0.2,-0.1,0],
                               "labelExpr": "abs(datum.value*2-round(datum.value*2))<0.001 ? replace(format(datum.value,'.1f'),'\u2212','-') : ''",
                               "tickSize": {"condition": {"test": "abs(datum.value*2-round(datum.value*2))<0.001", "value": -5}, "value": -2.5},
                               "gridOpacity": {"condition": {"test": "abs(datum.value*2-round(datum.value*2))<0.001", "value": 1}, "value": 0},
                               "labelColor": "#2a2ac0", "tickColor": "#2020b0"}},
                "color": {"field": "n", "type": "nominal",
                          "scale": {"domain": [2,6,10,14,18,22,26,30,34,38,42,46,50],
                                    "range": ["#b01010","#e19c24","#8fb032","#eb6235","#8778b3","#c56e1a","#5d9ec7","#ffbf00","#a5609d","#929600","#e95536","#6685d9","#000000"]},
                          "legend": {"orient": "none", "legendX": 669, "legendY": 110, "title": null,
                                     "symbolType": "stroke", "symbolSize": 400, "padding": 0,
                                     "labelExpr": "'n=' + datum.label",
                                     "labelFont": "Liberation Serif", "labelFontStyle": "italic", "labelFontSize": 20,
                                     "labelColor": "#222222", "labelOffset": 12, "rowPadding": 7.4,
                                     "encode": {"symbols": {"update": {"strokeWidth": {"signal": "datum.value == 2 || datum.value == 50 ? 2.6 : 1.3"}}}}}},
                "strokeWidth": {"condition": {"test": "datum.n == 2 || datum.n == 50", "value": 2.3}, "value": 1.1}
              }
            },
            {
              "mark": {"type": "point", "opacity": 0},
              "encoding": {
                "x": {"field": "R", "type": "quantitative",
                      "scale": {"domain": [-1.04, 1.04], "nice": false, "zero": false},
                      "axis": {"orient": "top", "title": null, "labels": false, "grid": false,
                               "values": [-1,-0.9,-0.8,-0.7,-0.6,-0.5,-0.4,-0.3,-0.2,-0.1,0,0.1,0.2,0.3,0.4,0.5,0.6,0.7,0.8,0.9,1],
                               "tickSize": {"condition": {"test": "abs(datum.value*2-round(datum.value*2))<0.001", "value": -5}, "value": -2.5},
                               "tickColor": "#2020b0"}},
                "y": {"field": "v", "type": "quantitative",
                      "scale": {"domain": [-1.8, 0.027], "nice": false, "zero": false},
                      "axis": {"orient": "right", "title": null, "labels": false, "grid": false,
                               "values": [-1.8,-1.7,-1.6,-1.5,-1.4,-1.3,-1.2,-1.1,-1,-0.9,-0.8,-0.7,-0.6,-0.5,-0.4,-0.3,-0.2,-0.1,0],
                               "tickSize": {"condition": {"test": "abs(datum.value*2-round(datum.value*2))<0.001", "value": -5}, "value": -2.5},
                               "tickColor": "#2020b0"}}
              }
            }
          ],
          "resolve": {"axis": {"x": "independent", "y": "independent"}}
        },
        {
          "width": 274, "height": 221,
          "data": {"name": "p2"},
          "title": {"text": "ξₙ=2"},
          "view": {"stroke": "#000000", "strokeWidth": 1.8},
          "layer": [
            {
              "mark": {"type": "line", "interpolate": "monotone", "clip": true},
              "encoding": {
                "x": {"field": "R", "type": "quantitative", "title": "R",
                      "scale": {"domain": [-1.03, 1.015], "nice": false, "zero": false},
                      "axis": {"values": [-1,-0.9,-0.8,-0.7,-0.6,-0.5,-0.4,-0.3,-0.2,-0.1,0,0.1,0.2,0.3,0.4,0.5,0.6,0.7,0.8,0.9,1],
                               "labelExpr": "abs(datum.value*2-round(datum.value*2))<0.001 ? replace(format(datum.value,'.1f'),'\u2212','-') : ''",
                               "tickSize": {"condition": {"test": "abs(datum.value*2-round(datum.value*2))<0.001", "value": -5}, "value": -2.5},
                               "gridOpacity": {"condition": {"test": "abs(datum.value*2-round(datum.value*2))<0.001", "value": 1}, "value": 0}}},
                "y": {"field": "v", "type": "quantitative", "title": "η̄",
                      "scale": {"domain": [-1.133, 1.322], "nice": false, "zero": false},
                      "axis": {"values": [-1.1,-1,-0.9,-0.8,-0.7,-0.6,-0.5,-0.4,-0.3,-0.2,-0.1,0,0.1,0.2,0.3,0.4,0.5,0.6,0.7,0.8,0.9,1,1.1,1.2,1.3],
                               "labelExpr": "abs(datum.value*2-round(datum.value*2))<0.001 ? replace(format(datum.value,'.1f'),'\u2212','-') : ''",
                               "tickSize": {"condition": {"test": "abs(datum.value*2-round(datum.value*2))<0.001", "value": -5}, "value": -2.5},
                               "gridOpacity": {"condition": {"test": "abs(datum.value*2-round(datum.value*2))<0.001", "value": 1}, "value": 0}}},
                "color": {"field": "n", "type": "nominal"},
                "strokeWidth": {"condition": {"test": "datum.n == 2 || datum.n == 50", "value": 2.3}, "value": 1.1}
              }
            },
            {
              "mark": {"type": "point", "opacity": 0},
              "encoding": {
                "x": {"field": "R", "type": "quantitative",
                      "scale": {"domain": [-1.03, 1.015], "nice": false, "zero": false},
                      "axis": {"orient": "top", "title": null, "labels": false, "grid": false,
                               "values": [-1,-0.9,-0.8,-0.7,-0.6,-0.5,-0.4,-0.3,-0.2,-0.1,0,0.1,0.2,0.3,0.4,0.5,0.6,0.7,0.8,0.9,1],
                               "tickSize": {"condition": {"test": "abs(datum.value*2-round(datum.value*2))<0.001", "value": -5}, "value": -2.5}}},
                "y": {"field": "v", "type": "quantitative",
                      "scale": {"domain": [-1.133, 1.322], "nice": false, "zero": false},
                      "axis": {"orient": "right", "title": null, "labels": false, "grid": false,
                               "values": [-1.1,-1,-0.9,-0.8,-0.7,-0.6,-0.5,-0.4,-0.3,-0.2,-0.1,0,0.1,0.2,0.3,0.4,0.5,0.6,0.7,0.8,0.9,1,1.1,1.2,1.3],
                               "tickSize": {"condition": {"test": "abs(datum.value*2-round(datum.value*2))<0.001", "value": -5}, "value": -2.5}}}
              }
            }
          ],
          "resolve": {"axis": {"x": "independent", "y": "independent"}}
        }
      ]
    },
    {
      "bounds": "flush",
      "spacing": 77,
      "hconcat": [
        {
          "width": 284, "height": 229,
          "data": {"name": "p3"},
          "title": {"text": "ξₙ=3"},
          "view": {"stroke": "#000000", "strokeWidth": 1.8},
          "layer": [
            {
              "mark": {"type": "line", "interpolate": "monotone", "clip": true},
              "encoding": {
                "x": {"field": "R", "type": "quantitative", "title": "R",
                      "scale": {"domain": [-1.036, 1.044], "nice": false, "zero": false},
                      "axis": {"values": [-1,-0.9,-0.8,-0.7,-0.6,-0.5,-0.4,-0.3,-0.2,-0.1,0,0.1,0.2,0.3,0.4,0.5,0.6,0.7,0.8,0.9,1],
                               "labelExpr": "abs(datum.value*2-round(datum.value*2))<0.001 ? replace(format(datum.value,'.1f'),'\u2212','-') : ''",
                               "tickSize": {"condition": {"test": "abs(datum.value*2-round(datum.value*2))<0.001", "value": -5}, "value": -2.5},
                               "gridOpacity": {"condition": {"test": "abs(datum.value*2-round(datum.value*2))<0.001", "value": 1}, "value": 0}}},
                "y": {"field": "v", "type": "quantitative", "title": "η̄",
                      "scale": {"domain": [-0.075, 3.083], "nice": false, "zero": false},
                      "axis": {"values": [0,0.1,0.2,0.3,0.4,0.5,0.6,0.7,0.8,0.9,1,1.1,1.2,1.3,1.4,1.5,1.6,1.7,1.8,1.9,2,2.1,2.2,2.3,2.4,2.5,2.6,2.7,2.8,2.9,3],
                               "labelExpr": "abs(datum.value*2-round(datum.value*2))<0.001 ? replace(format(datum.value,'.1f'),'\u2212','-') : ''",
                               "tickSize": {"condition": {"test": "abs(datum.value*2-round(datum.value*2))<0.001", "value": -5}, "value": -2.5},
                               "gridOpacity": {"condition": {"test": "abs(datum.value*2-round(datum.value*2))<0.001", "value": 1}, "value": 0}}},
                "color": {"field": "n", "type": "nominal"},
                "strokeWidth": {"condition": {"test": "datum.n == 2 || datum.n == 50", "value": 2.3}, "value": 1.1}
              }
            },
            {
              "mark": {"type": "point", "opacity": 0},
              "encoding": {
                "x": {"field": "R", "type": "quantitative",
                      "scale": {"domain": [-1.036, 1.044], "nice": false, "zero": false},
                      "axis": {"orient": "top", "title": null, "labels": false, "grid": false,
                               "values": [-1,-0.9,-0.8,-0.7,-0.6,-0.5,-0.4,-0.3,-0.2,-0.1,0,0.1,0.2,0.3,0.4,0.5,0.6,0.7,0.8,0.9,1],
                               "tickSize": {"condition": {"test": "abs(datum.value*2-round(datum.value*2))<0.001", "value": -5}, "value": -2.5}}},
                "y": {"field": "v", "type": "quantitative",
                      "scale": {"domain": [-0.075, 3.083], "nice": false, "zero": false},
                      "axis": {"orient": "right", "title": null, "labels": false, "grid": false,
                               "values": [0,0.1,0.2,0.3,0.4,0.5,0.6,0.7,0.8,0.9,1,1.1,1.2,1.3,1.4,1.5,1.6,1.7,1.8,1.9,2,2.1,2.2,2.3,2.4,2.5,2.6,2.7,2.8,2.9,3],
                               "tickSize": {"condition": {"test": "abs(datum.value*2-round(datum.value*2))<0.001", "value": -5}, "value": -2.5}}}
              }
            }
          ],
          "resolve": {"axis": {"x": "independent", "y": "independent"}}
        },
        {
          "width": 286, "height": 229,
          "data": {"name": "p4"},
          "title": {"text": "ξₙ=4"},
          "view": {"stroke": "#000000", "strokeWidth": 1.8},
          "layer": [
            {
              "mark": {"type": "line", "interpolate": "monotone", "clip": true},
              "encoding": {
                "x": {"field": "R", "type": "quantitative", "title": "R",
                      "scale": {"domain": [-1.034, 1.038], "nice": false, "zero": false},
                      "axis": {"values": [-1,-0.9,-0.8,-0.7,-0.6,-0.5,-0.4,-0.3,-0.2,-0.1,0,0.1,0.2,0.3,0.4,0.5,0.6,0.7,0.8,0.9,1],
                               "labelExpr": "abs(datum.value*2-round(datum.value*2))<0.001 ? replace(format(datum.value,'.1f'),'\u2212','-') : ''",
                               "tickSize": {"condition": {"test": "abs(datum.value*2-round(datum.value*2))<0.001", "value": -5}, "value": -2.5},
                               "gridOpacity": {"condition": {"test": "abs(datum.value*2-round(datum.value*2))<0.001", "value": 1}, "value": 0}}},
                "y": {"field": "v", "type": "quantitative", "title": "η̄",
                      "scale": {"domain": [-1.76, 12.14], "nice": false, "zero": false},
                      "axis": {"values": [-1.5,-1,-0.5,0,0.5,1,1.5,2,2.5,3,3.5,4,4.5,5,5.5,6,6.5,7,7.5,8,8.5,9,9.5,10,10.5,11,11.5,12],
                               "labelExpr": "abs(datum.value/2-round(datum.value/2))<0.001 ? replace(format(datum.value,'d'),'\u2212','-') : ''",
                               "tickSize": {"condition": {"test": "abs(datum.value/2-round(datum.value/2))<0.001", "value": -5}, "value": -2.5},
                               "gridOpacity": {"condition": {"test": "abs(datum.value/2-round(datum.value/2))<0.001", "value": 1}, "value": 0}}},
                "color": {"field": "n", "type": "nominal"},
                "strokeWidth": {"condition": {"test": "datum.n == 2 || datum.n == 50", "value": 2.3}, "value": 1.1}
              }
            },
            {
              "mark": {"type": "point", "opacity": 0},
              "encoding": {
                "x": {"field": "R", "type": "quantitative",
                      "scale": {"domain": [-1.034, 1.038], "nice": false, "zero": false},
                      "axis": {"orient": "top", "title": null, "labels": false, "grid": false,
                               "values": [-1,-0.9,-0.8,-0.7,-0.6,-0.5,-0.4,-0.3,-0.2,-0.1,0,0.1,0.2,0.3,0.4,0.5,0.6,0.7,0.8,0.9,1],
                               "tickSize": {"condition": {"test": "abs(datum.value*2-round(datum.value*2))<0.001", "value": -5}, "value": -2.5}}},
                "y": {"field": "v", "type": "quantitative",
                      "scale": {"domain": [-1.76, 12.14], "nice": false, "zero": false},
                      "axis": {"orient": "right", "title": null, "labels": false, "grid": false,
                               "values": [-1.5,-1,-0.5,0,0.5,1,1.5,2,2.5,3,3.5,4,4.5,5,5.5,6,6.5,7,7.5,8,8.5,9,9.5,10,10.5,11,11.5,12],
                               "tickSize": {"condition": {"test": "abs(datum.value/2-round(datum.value/2))<0.001", "value": -5}, "value": -2.5}}}
              }
            }
          ],
          "resolve": {"axis": {"x": "independent", "y": "independent"}}
        }
      ]
    }
  ],
  "config": {
    "font": "DejaVu Sans",
    "title": {"font": "DejaVu Sans", "fontSize": 17, "fontWeight": "normal", "color": "#000000", "offset": 6},
    "axis": {
      "domain": false, "labelFont": "DejaVu Sans", "labelFontSize": 10, "labelColor": "#404040",
      "tickColor": "#000000", "tickWidth": 1, "gridColor": "#b4b4b4", "gridDash": [1.5, 2], "gridWidth": 0.8,
      "labelOverlap": false, "labelFlush": false, "labelPadding": 11,
      "titleFontWeight": "normal", "titleColor": "#000000"
    },
    "axisX": {"titleFont": "Liberation Serif", "titleFontStyle": "italic", "titleFontSize": 21, "titlePadding": 4, "labelPadding": 9},
    "axisY": {"titleFont": "DejaVu Sans", "titleFontSize": 24, "titlePadding": 0, "labelPadding": 10}
  }
}
